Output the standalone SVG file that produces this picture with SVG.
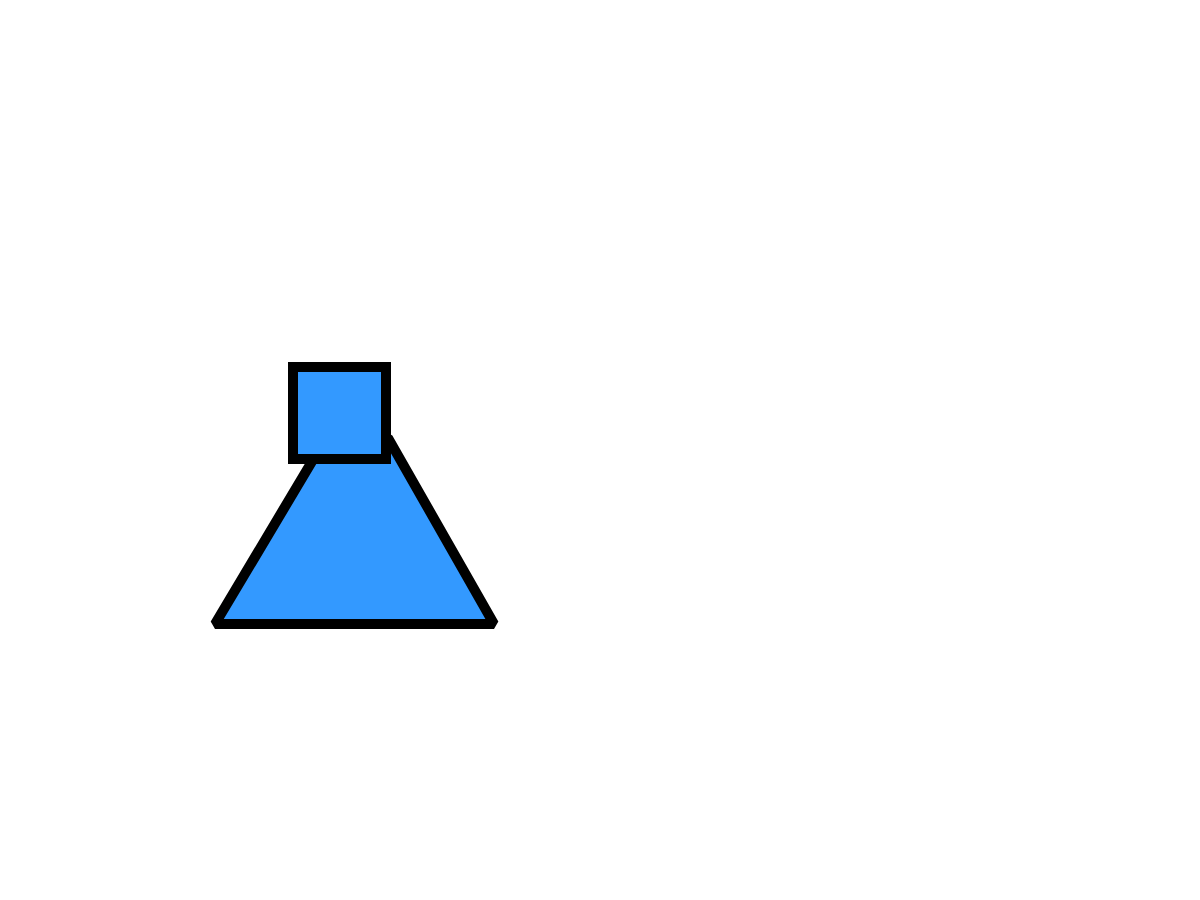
<svg xmlns="http://www.w3.org/2000/svg" width="1200" height="900" viewBox="0 0 1200 900">
<style>
.shape{fill:#3399ff;stroke:#000;stroke-width:10}
</style>
<rect width="1200" height="900" fill="#fff"/>
<g id="base">
<polygon class="shape" points="215,624 494,624 388,438 326,438" stroke-linejoin="bevel"/>
</g>
<g id="top">
<rect class="shape" x="293" y="367" width="93" height="92"/>
</g>
<g id="connectors"></g>
</svg>
